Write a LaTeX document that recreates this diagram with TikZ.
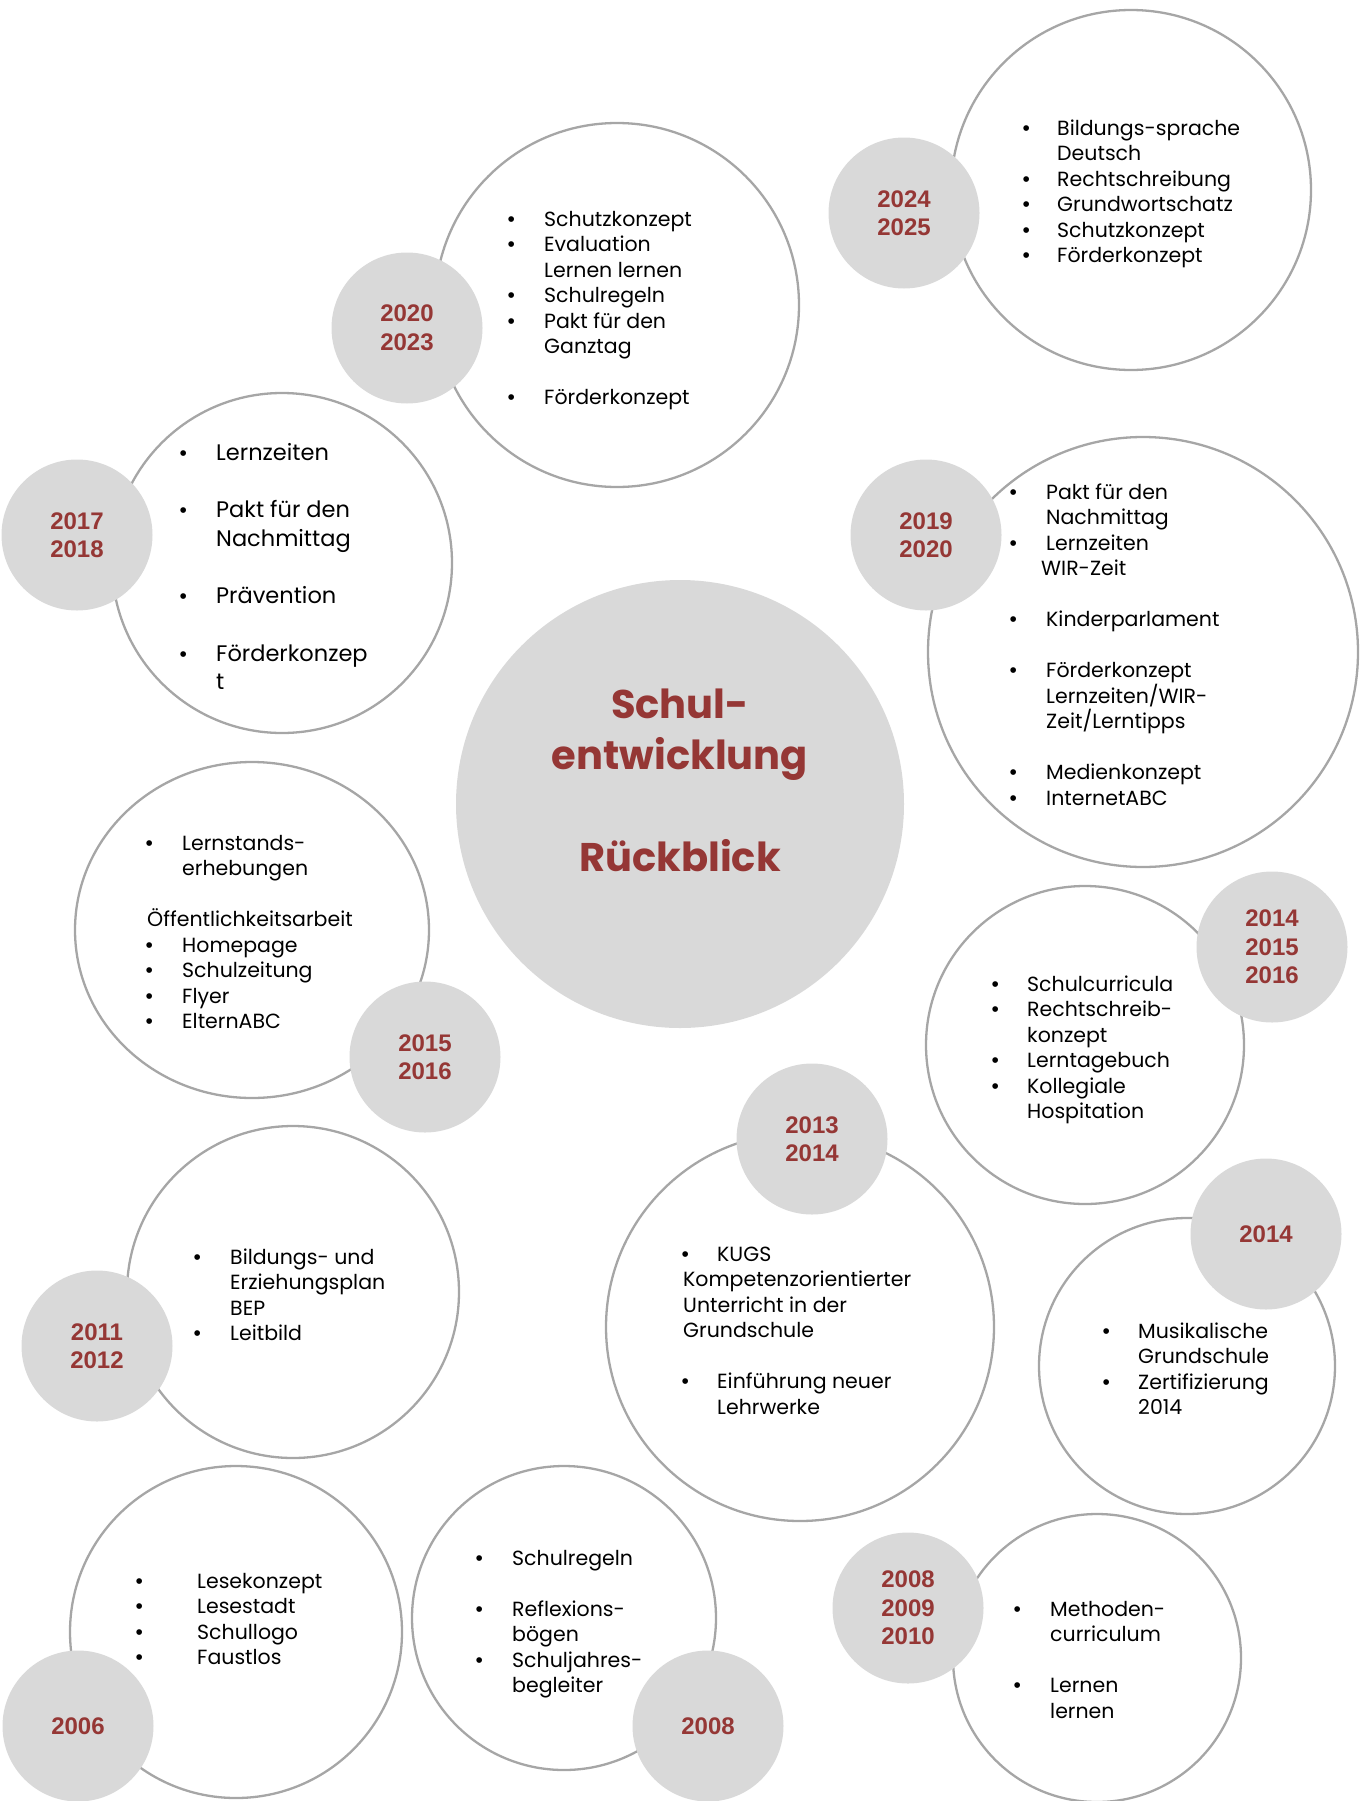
\documentclass[tikz,border=0pt]{standalone}
\usepackage{fontspec}
\setmainfont{Poppins}
\newfontfamily\bodyfont{Poppins}
\newfontfamily\yearfont{Liberation Sans}
\newfontfamily\bulfont{Liberation Sans}
\usetikzlibrary{shapes.geometric}
\definecolor{sred}{HTML}{953735}
\definecolor{sgrey}{HTML}{D9D9D9}
\definecolor{sline}{HTML}{A6A6A6}
\newlength\bw
\newcommand{\bul}{{\bulfont\fontsize{21}{25.6}\selectfont\textbullet}}
\newcommand{\itm}[1]{\strut\makebox[\bw][l]{\hspace*{-1.5pt}\bul}#1}
\newcommand{\ind}[1]{\strut\hspace*{\bw}#1}
\tikzset{
  outl/.style={circle, draw=sline, line width=2.3pt, fill=white, inner sep=0pt, minimum size=#1},
  oval/.style={ellipse, draw=sline, line width=2.3pt, fill=white, inner sep=0pt},
  yearc/.style={circle, fill=sgrey, inner sep=0pt, minimum size=151pt, align=center,
    text=sred, font=\yearfont\bfseries\fontsize{24}{28.5}\selectfont},
  bw/.code={\setlength\bw{#1}},
  lsl/.code={\lineskiplimit=-50pt\relax},
  txt/.style={anchor=north west, inner sep=0pt, align=left, lsl,
    font=\bodyfont\fontsize{20.5}{25.5}\selectfont},
  bigtxt/.style={anchor=north west, inner sep=0pt, align=left, lsl,
    font=\bodyfont\fontsize{22.5}{28.7}\selectfont}
}
\begin{document}
\begin{tikzpicture}[x=1pt,y=-1pt]
\useasboundingbox (0,0) rectangle (1360,1801);
\clip (0,0) rectangle (1360,1801);
% outline circles
\node[outl=360pt] (o24) at (1131,190) {};
\node[outl=364pt] (o20) at (617,305) {};
\node[outl=340pt] (o17) at (282,563) {};
\node[outl=430pt] (o19) at (1143,652) {};
\node[oval, minimum width=354pt, minimum height=336pt] (o15) at (252,930) {};
\node[outl=318pt] (o14a) at (1085,1045) {};
\node[outl=332pt] (o11) at (293,1292) {};
\node[outl=388pt] (o13) at (800,1327) {};
\node[outl=296pt] (o14b) at (1187,1366) {};
\node[outl=332pt] (o06) at (236,1632) {};
\node[outl=304pt] (o08) at (564,1618) {};
\node[outl=288pt] (o0810) at (1097,1658) {};
% centre
\node[circle, fill=sgrey, inner sep=0pt, minimum size=448pt] (ctr) at (680,804) {};
\node[anchor=north, inner sep=0pt, align=center, text=sred,
  font=\bodyfont\bfseries\fontsize{40}{51}\selectfont] (title) at (680,682.3)
  {\strut Schul-\\entwicklung\\[51pt]Rückblick};
% year circles
\node[yearc] (g24) at (904,213) {2024\\2025};
\node[yearc] (g20) at (407,328) {2020\\2023};
\node[yearc] (g17) at (77,535) {2017\\2018};
\node[yearc] (g19) at (926,535) {2019\\2020};
\node[yearc] (g15) at (425,1057) {2015\\2016};
\node[yearc] (g14a) at (1272,947) {2014\\2015\\2016};
\node[yearc] (g11) at (97,1346) {2011\\2012};
\node[yearc] (g13) at (812,1139) {2013\\2014};
\node[yearc] (g14b) at (1266,1234) {2014};
\node[yearc] (g06) at (78,1726) {2006};
\node[yearc] (g08) at (708,1726) {2008};
\node[yearc] (g0810) at (908,1608) {2008\\2009\\2010};
% texts
\node[txt, bw=33pt] (t24) at (1024,117.1) {\itm{Bildungs-sprache}\\ \ind{Deutsch}\\ \itm{Rechtschreibung}\\ \itm{Grundwortschatz}\\ \itm{Schutzkonzept}\\ \itm{Förderkonzept}};
\node[txt, bw=35pt] (t20) at (509,208.1) {\itm{Schutzkonzept}\\ \itm{Evaluation}\\ \ind{Lernen lernen}\\ \itm{Schulregeln}\\ \itm{Pakt für den}\\ \ind{Ganztag}\\ \strut\\ \itm{Förderkonzept}};
\node[bigtxt, bw=35pt] (t17) at (181,439.9) {\itm{Lernzeiten}\\ \strut\\ \itm{Pakt für den}\\ \ind{Nachmittag}\\ \strut\\ \itm{Prävention}\\ \strut\\ \itm{Förderkonzep}\\ \ind{t}};
\node[txt, bw=35pt] (t19) at (1011,481.1) {\itm{Pakt für den}\\ \ind{Nachmittag}\\ \itm{Lernzeiten}\\ \strut\hspace*{30pt}WIR-Zeit\\ \strut\\ \itm{Kinderparlament}\\ \strut\\ \itm{Förderkonzept}\\ \ind{Lernzeiten/WIR-}\\ \ind{Zeit/Lerntipps}\\ \strut\\ \itm{Medienkonzept}\\ \itm{InternetABC}};
\node[txt, bw=35pt] (t15) at (147,832.1) {\itm{Lernstands-}\\ \ind{erhebungen}\\ \strut\\ \strut Öffentlichkeitsarbeit\\ \itm{Homepage}\\ \itm{Schulzeitung}\\ \itm{Flyer}\\ \itm{ElternABC}};
\node[txt, bw=34pt] (t14a) at (993,973.1) {\itm{Schulcurricula}\\ \itm{Rechtschreib-}\\ \ind{konzept}\\ \itm{Lerntagebuch}\\ \itm{Kollegiale}\\ \ind{Hospitation}};
\node[txt, bw=35pt] (t11) at (195,1246.1) {\itm{Bildungs- und}\\ \ind{Erziehungsplan}\\ \ind{BEP}\\ \itm{Leitbild}};
\node[txt, bw=34pt] (t13) at (683,1243.1) {\itm{KUGS}\\ \strut Kompetenzorientierter\\ \strut Unterricht in der\\ \strut Grundschule\\ \strut\\ \itm{Einführung neuer}\\ \ind{Lehrwerke}};
\node[txt, bw=34pt] (t14b) at (1104,1320.1) {\itm{Musikalische}\\ \ind{Grundschule}\\ \itm{Zertifizierung}\\ \ind{2014}};
\node[txt, bw=60pt] (t06) at (137,1570.1) {\itm{Lesekonzept}\\ \itm{Lesestadt}\\ \itm{Schullogo}\\ \itm{Faustlos}};
\node[txt, bw=35pt] (t08) at (477,1547.1) {\itm{Schulregeln}\\ \strut\\ \itm{Reflexions-}\\ \ind{bögen}\\ \itm{Schuljahres-}\\ \ind{begleiter}};
\node[txt, bw=35pt] (t0810) at (1015,1598.1) {\itm{Methoden-}\\ \ind{curriculum}\\ \strut\\ \itm{Lernen}\\ \ind{lernen}};
\end{tikzpicture}
\end{document}
